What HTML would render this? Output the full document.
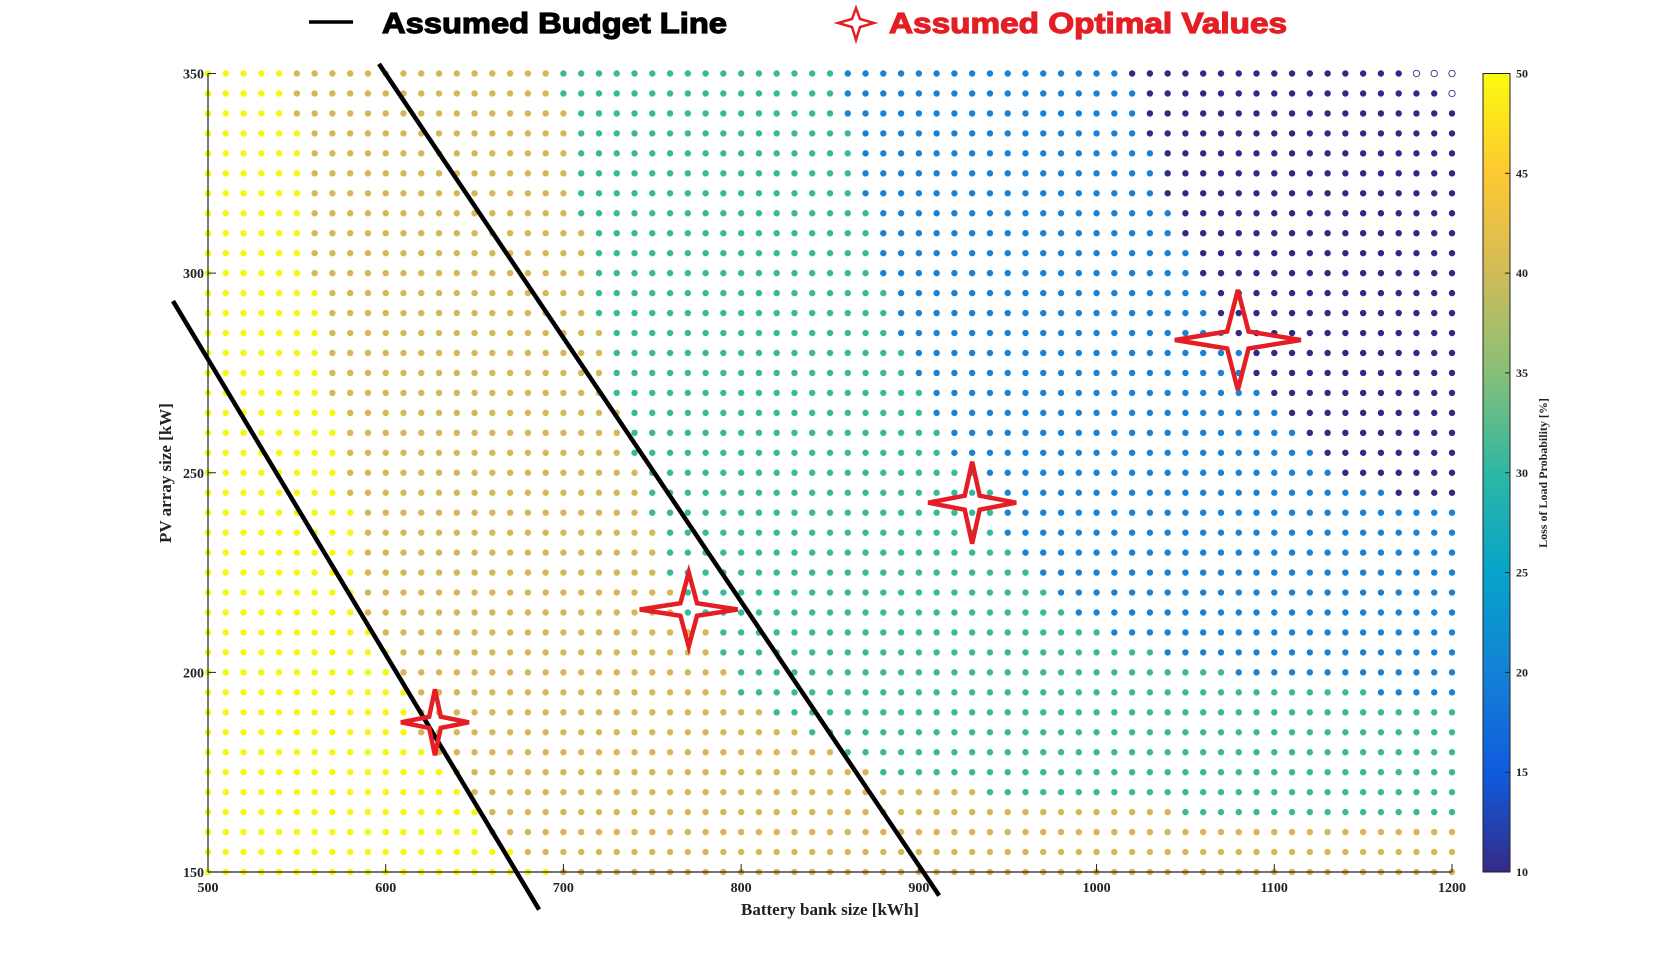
<!DOCTYPE html>
<html><head><meta charset="utf-8"><style>
html,body{margin:0;padding:0;background:#fff;}
svg{display:block;}
.tk{font-family:"Liberation Serif",serif;font-weight:bold;font-size:14px;fill:#222;}
.lab{font-family:"Liberation Serif",serif;font-weight:bold;font-size:17px;fill:#222;}
.leg{font-family:"Liberation Sans",sans-serif;font-weight:bold;font-size:29px;stroke-width:1.2px;}
</style></head><body>
<svg id="chart" width="1680" height="974" viewBox="0 0 1680 974" xmlns="http://www.w3.org/2000/svg">
<defs>
<linearGradient id="parula" x1="0" y1="1" x2="0" y2="0">
<stop offset="0" stop-color="#352a87"/><stop offset="0.125" stop-color="#0f5cdd"/><stop offset="0.25" stop-color="#1481d6"/><stop offset="0.375" stop-color="#06a4ca"/><stop offset="0.5" stop-color="#2eb7a4"/><stop offset="0.625" stop-color="#87bf77"/><stop offset="0.75" stop-color="#d1bb59"/><stop offset="0.875" stop-color="#fec832"/><stop offset="1" stop-color="#f9fb0e"/>
</linearGradient>
</defs>
<g id="legend">
<line x1="309" y1="22" x2="353" y2="22" stroke="#000" stroke-width="3.5"/>
<text class="leg" x="382" y="33" fill="#000" stroke="#000" textLength="345" lengthAdjust="spacingAndGlyphs">Assumed Budget Line</text>
<path d="M856,8 L860,19 L874,23 L860,27 L856,40 L852,27 L838,23 L852,19 Z" fill="none" stroke="#e31e25" stroke-width="2.5"/>
<text class="leg" x="889" y="33" fill="#e31e25" stroke="#e31e25" textLength="398" lengthAdjust="spacingAndGlyphs">Assumed Optimal Values</text>
</g>
<g id="dots"></g>
<g id="axes"></g>
<g id="overlay"></g>
<g id="cbar"></g>
</svg>
<script>
// ---- data ----
const pvRows = []; for (let v = 350; v >= 150; v -= 5) pvRows.push(v);
const batteryCols = []; for (let v = 500; v <= 1200; v += 10) batteryCols.push(v);
// per-row (350 -> 150) first battery size (kWh) of each LLP band
const tanStart = [550,550,550,560,560,560,560,560,560,560,560,570,570,570,570,570,570,580,580,580,580,580,590,590,590,590,590,590,600,610,610,620,620,620,630,640,650,660,660,680,700];
const tealStart = [700,700,710,710,710,710,710,710,720,720,720,720,720,730,730,730,730,740,740,740,750,750,750,760,760,760,770,770,790,790,800,800,820,840,860,880,940,1050,1210,1210,1210];
const blueStart = [860,860,860,870,870,870,870,880,880,880,880,890,890,890,900,900,910,910,920,920,940,950,950,950,960,970,980,990,1010,1040,1080,1160,1210,1210,1210,1210,1210,1210,1210,1210,1210];
const darkStart = [1020,1030,1030,1030,1040,1040,1040,1050,1050,1060,1060,1070,1070,1080,1090,1090,1100,1110,1120,1130,1140,1170,1210,1210,1210,1210,1210,1210,1210,1210,1210,1210,1210,1210,1210,1210,1210,1210,1210,1210,1210];
const hollowStart = [1180,1200,1210,1210,1210,1210,1210,1210,1210,1210,1210,1210,1210,1210,1210,1210,1210,1210,1210,1210,1210,1210,1210,1210,1210,1210,1210,1210,1210,1210,1210,1210,1210,1210,1210,1210,1210,1210,1210,1210,1210];
const bandValues = [50, 40, 30, 20, 10];
const xTicks = [500,600,700,800,900,1000,1100,1200];
const yTicks = [150,200,250,300,350];
const cbTicks = [10,15,20,25,30,35,40,45,50];
const budgetLine1 = [[480.3,293],[686.3,140.6]];
const budgetLine2 = [[596.2,352.4],[911.4,144.1]];
const optimalX = [627.7, 770.5, 930, 1079.5];
const optimalY = [187.5, 215.75, 242.5, 283.25];
const optimalRx = [34, 49, 44, 63];
const optimalRy = [33, 37, 41, 50];

// ---- scales ----
const X0=208, X1=1452, Y0=872, Y1=73.5;
const xs = v => X0 + (v-500)*(X1-X0)/700;
const ys = v => Y0 - (v-150)*(Y0-Y1)/200;
const NS = "http://www.w3.org/2000/svg";
function mk(tag, parent, attrs){ const e=document.createElementNS(NS,tag); for(const k in attrs) e.setAttribute(k,attrs[k]); parent.appendChild(e); return e; }
function colorFor(v){ if(v>=50) return "#f6f70f"; if(v>=40) return "#d8b654"; if(v>=30) return "#38b99c"; if(v>=20) return "#1a82d4"; return "#2f2a83"; }

const dots = document.getElementById('dots');
pvRows.forEach((pv,i)=>{
  batteryCols.forEach(b=>{
    let val;
    if (b < tanStart[i]) val = bandValues[0];
    else if (b < tealStart[i]) val = bandValues[1];
    else if (b < blueStart[i]) val = bandValues[2];
    else if (b < darkStart[i]) val = bandValues[3];
    else if (b < hollowStart[i]) val = bandValues[4];
    else val = null;
    const c = mk('circle', dots, {cx: xs(b), cy: ys(pv), r: 3.2});
    
    
    if (val === null) { c.setAttribute('fill','none'); c.setAttribute('stroke','#35377a'); c.setAttribute('stroke-width','0.9'); }
    else c.setAttribute('fill', colorFor(val));
  });
});

const axes = document.getElementById('axes');
let e = mk('line', axes, {x1:X0, y1:Y1, x2:X0, y2:Y0, stroke:'#222', 'stroke-width':1.2});
 
e = mk('line', axes, {x1:X0, y1:Y0, x2:X1, y2:Y0, stroke:'#222', 'stroke-width':1.2});
 
xTicks.forEach(t=>{
  const l = mk('line', axes, {x1:xs(t), y1:Y0, x2:xs(t), y2:Y0-8, stroke:'#222','stroke-width':1});
   
  const tx = mk('text', axes, {x:xs(t), y:Y0+20, 'text-anchor':'middle', class:'tk'});
  tx.textContent = t;
   
});
yTicks.forEach(t=>{
  const l = mk('line', axes, {x1:X0, y1:ys(t), x2:X0+8, y2:ys(t), stroke:'#222','stroke-width':1});
   
  const tx = mk('text', axes, {x:X0-4, y:ys(t)+5, 'text-anchor':'end', class:'tk'});
  tx.textContent = t;
   
});
e = mk('text', axes, {x:830, y:915, 'text-anchor':'middle', class:'lab'});
e.textContent = 'Battery bank size [kWh]';
 
e = mk('text', axes, {x:0, y:0, 'text-anchor':'middle', class:'lab', transform:'translate(171,473) rotate(-90)'});
e.textContent = 'PV array size [kW]';
 

const ov = document.getElementById('overlay');
[budgetLine1, budgetLine2].forEach((ln,k)=>{
  const l = mk('line', ov, {x1:xs(ln[0][0]), y1:ys(ln[0][1]), x2:xs(ln[1][0]), y2:ys(ln[1][1]), stroke:'#000','stroke-width':4.5});
  
  
});
optimalX.forEach((v,k)=>{
  const cx = xs(v), cy = ys(optimalY[k]), rx = optimalRx[k], ry = optimalRy[k];
  const a = rx*0.17, b = ry*0.17;
  const d = `M${cx},${cy-ry} L${cx+a},${cy-b} L${cx+rx},${cy} L${cx+a},${cy+b} L${cx},${cy+ry} L${cx-a},${cy+b} L${cx-rx},${cy} L${cx-a},${cy-b} Z`;
  const p = mk('path', ov, {d:d, fill:'none', stroke:'#e31e25','stroke-width':4.5,'stroke-linejoin':'miter'});
  
  
});

const cb = document.getElementById('cbar');
const CBX=1483, CBW=27;
e = mk('rect', cb, {x:CBX, y:Y1, width:CBW, height:Y0-Y1, fill:'url(#parula)', stroke:'#222','stroke-width':1});
 
const cy = v => Y0 - (v-10)*(Y0-Y1)/40;
cbTicks.forEach(t=>{
  const l = mk('line', cb, {x1:CBX+CBW-5, y1:cy(t), x2:CBX+CBW, y2:cy(t), stroke:'#222','stroke-width':1});
   
  const tx = mk('text', cb, {x:CBX+CBW+6, y:cy(t)+4, class:'tk'});
  tx.style.fontSize='12px';
  tx.textContent = t;
   
});
e = mk('text', cb, {x:0, y:0, 'text-anchor':'middle', class:'tk', transform:'translate(1547,473) rotate(-90)'});
e.style.fontSize='12px';
e.textContent = 'Loss of Load Probability [%]';
 
</script>
</body></html>
